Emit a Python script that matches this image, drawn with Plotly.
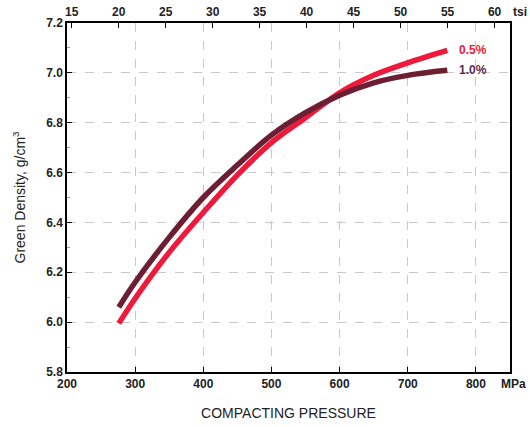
import plotly.graph_objects as go

# Data
pressure_mpa = [276, 300, 350, 400, 450, 500, 550, 600, 650, 700, 758]
density_05 = [5.995, 6.095, 6.28, 6.44, 6.59, 6.72, 6.82, 6.92, 6.99, 7.04, 7.09]
density_10 = [6.06, 6.16, 6.34, 6.50, 6.63, 6.75, 6.84, 6.91, 6.96, 6.99, 7.01]
series_names = ["0.5%", "1.0%"]
series_colors = ["#ee1a3c", "#6c1f33"]
label_colors = ["#ee1a3c", "#5e2a55"]
mpa_ticks = [200, 300, 400, 500, 600, 700, 800]
tsi_ticks = [15, 20, 25, 30, 35, 40, 45, 50, 55, 60]
y_ticks = [5.8, 6.0, 6.2, 6.4, 6.6, 6.8, 7.0, 7.2]
MPA_PER_TSI = 13.7895
x_range = [200, 850]
y_range = [5.8, 7.2]

fig = go.Figure()
for name, ys, col in zip(series_names, [density_05, density_10], series_colors):
    fig.add_trace(go.Scatter(x=pressure_mpa, y=ys, mode="lines", name=name,
                             line=dict(color=col, width=5.5, shape="spline", smoothing=1.0),
                             showlegend=False))

# invisible trace for top axis
fig.add_trace(go.Scatter(x=[tsi_ticks[0]], y=[y_ticks[0]], xaxis="x2", mode="markers",
                         marker=dict(opacity=0), showlegend=False, hoverinfo="skip"))

tick_font = dict(family="Liberation Sans, Arial", size=12, color="#222222")

fig.update_layout(
    width=530, height=427,
    margin=dict(l=67, r=20, t=23, b=55),
    plot_bgcolor="white", paper_bgcolor="white",
    font=dict(family="Liberation Sans, Arial", color="#222222"),
    xaxis=dict(range=x_range, tickvals=mpa_ticks, ticktext=[f"<b>{v}</b>" for v in mpa_ticks],
               showgrid=True, gridcolor="#c8c8c8", griddash="dash", gridwidth=1,
               showline=True, linecolor="black", linewidth=1.5, mirror=False,
               ticks="inside", ticklen=5, tickcolor="black", tickfont=tick_font,
               zeroline=False, automargin=False,
               title=dict(text="COMPACTING PRESSURE", font=dict(size=14, color="#222222"), standoff=18)),
    xaxis2=dict(range=[x_range[0] / MPA_PER_TSI, x_range[1] / MPA_PER_TSI], overlaying="x", side="top",
                tickvals=tsi_ticks, ticktext=[f"<b>{v}</b>" for v in tsi_ticks],
                showgrid=False, showline=True, linecolor="black", linewidth=1.5,
                ticks="inside", ticklen=5, tickcolor="black", tickfont=tick_font, zeroline=False,
                automargin=False),
    yaxis=dict(range=y_range, tickvals=y_ticks, ticktext=[f"<b>{v:.1f}</b>" for v in y_ticks],
               showgrid=True, gridcolor="#c8c8c8", griddash="dash", gridwidth=1,
               showline=True, linecolor="black", linewidth=1.5, mirror=True,
               ticks="inside", ticklen=5, tickcolor="black", tickfont=tick_font, zeroline=False,
               automargin=False,
               minor=dict(dtick=0.1, ticks="inside", ticklen=3, tickcolor="#999999", showgrid=False),
               title=dict(text="Green Density, g/cm<sup>3</sup>", font=dict(size=14, color="#222222"),
                          standoff=17)),
)

# series labels
for name, ys, col in zip(series_names, [density_05, density_10], label_colors):
    fig.add_annotation(x=pressure_mpa[-1], y=ys[-1], text=f"<b>{name}</b>", showarrow=False,
                       xanchor="left", xshift=10, yanchor="middle",
                       font=dict(size=12, color=col))

# unit labels
fig.add_annotation(x=1.0, y=0, xref="paper", yref="paper", text="<b>MPa</b>", showarrow=False,
                   xanchor="right", yanchor="top", xshift=18, yshift=-3, font=tick_font)
fig.add_annotation(x=1.0, y=1, xref="paper", yref="paper", text="<b>tsi</b>", showarrow=False,
                   xanchor="right", yanchor="bottom", xshift=19, yshift=2, font=tick_font)

fig.write_html("out.html", config={"displayModeBar": False},
               post_script="document.body.style.margin='0';")
